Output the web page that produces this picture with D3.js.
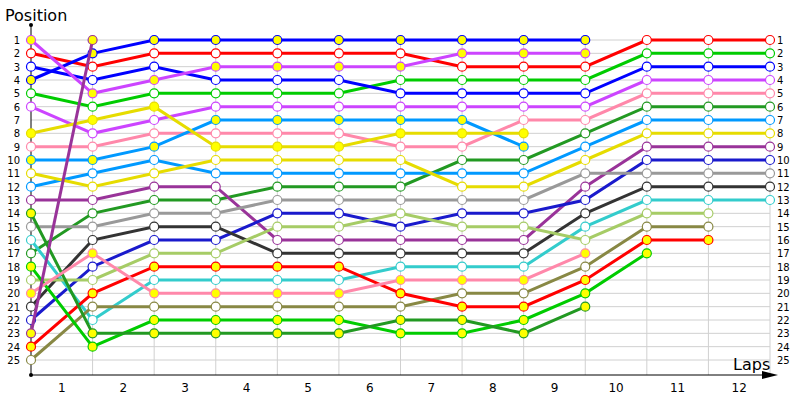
<!DOCTYPE html>
<html><head><meta charset="utf-8">
<script src="https://cdn.jsdelivr.net/npm/d3@7"></script>
<style>body{margin:0;background:#fff}text{font-family:"DejaVu Sans",sans-serif}</style>
</head><body>
<script>
// lap indices 0..12, positions per lap
var laps = d3.range(0, 13);
var lapLabels = ["1","2","3","4","5","6","7","8","9","10","11","12"];
var positions = d3.range(1, 26);

var colors = ["#ff0000","#00cc00","#0000ff","#cc44ff","#ff88aa","#229922","#0099ff","#e6dc00","#993399","#1a1acc","#999999","#333333","#33cccc","#a6cc66","#888844",
              "#ff0000","#00cc00","#229922","#ff88aa","#0000ff","#cc44ff","#0099ff","#e6dc00","#993399"];
var pitFill = [0,0,0,0,0,0,0,0,0,0,0,0,0,0,0, 1,1,1,1,1,1,1,1,1];
var series = [
  [2,3,2,2,2,2,2,3,3,3,1,1,1],
  [5,6,5,5,5,5,4,4,4,4,2,2,2],
  [3,4,3,4,4,4,5,5,5,5,3,3,3],
  [6,8,7,6,6,6,6,6,6,6,4,4,4],
  [9,9,8,8,8,8,9,9,7,7,5,5,5],
  [17,14,13,13,12,12,12,10,10,8,6,6,6],
  [12,11,10,11,11,11,11,11,11,9,7,7,7],
  [11,12,11,10,10,10,10,12,12,10,8,8,8],
  [13,13,12,12,16,16,16,16,16,12,9,9,9],
  [22,18,16,16,14,14,15,14,14,13,10,10,10],
  [15,15,14,14,13,13,13,13,13,11,11,11,11],
  [21,16,15,15,17,17,17,17,17,14,12,12,12],
  [16,22,19,19,19,19,18,18,18,15,13,13,13],
  [19,19,17,17,15,15,14,15,15,16,14,14],
  [25,21,21,21,21,21,21,20,20,18,15,15],
  [24,20,18,18,18,18,20,21,21,19,16,16],
  [18,24,22,22,22,22,23,23,22,20,17],
  [14,23,23,23,23,23,22,22,23,21],
  [20,17,20,20,20,20,19,19,19,17],
  [4,2,1,1,1,1,1,1,1,1],
  [1,5,4,3,3,3,3,2,2,2],
  [10,10,9,7,7,7,7,7,9],
  [8,7,6,9,9,9,8,8,8],
  [23,1]
];

var svg = d3.select("body").append("svg").attr("width",800).attr("height",400);
var x = d3.scaleLinear().domain([0,12]).range([31,770]);
var y = d3.scaleLinear().domain([1,25]).range([40,360]);

// grid
svg.selectAll(".hg").data(positions).enter().append("line")
  .attr("x1",31).attr("x2",770).attr("y1",d=>y(d)).attr("y2",d=>y(d))
  .attr("stroke","#d0d0d0");
svg.selectAll(".vg").data(laps.slice(1)).enter().append("line")
  .attr("x1",d=>x(d)).attr("x2",d=>x(d)).attr("y1",40).attr("y2",375)
  .attr("stroke","#d0d0d0");

// axes
svg.append("line").attr("x1",31).attr("x2",31).attr("y1",25).attr("y2",375).attr("stroke","#000");
svg.append("circle").attr("cx",31).attr("cy",25).attr("r",2);
svg.append("circle").attr("cx",31).attr("cy",375).attr("r",2);
svg.append("line").attr("x1",31).attr("x2",770).attr("y1",375).attr("y2",375).attr("stroke","#000");
svg.append("path").attr("d","M762,371 L778,375 L762,379 Z").attr("fill","#000");
svg.append("text").attr("x",5).attr("y",21).attr("font-size",16).text("Position");
svg.append("text").attr("x",733).attr("y",370).attr("font-size",16).text("Laps");

svg.selectAll(".yl").data(positions).enter().append("text")
  .attr("x",20).attr("y",d=>y(d)+4).attr("text-anchor","end").attr("font-size",10).text(d=>d);
svg.selectAll(".yr").data(positions).enter().append("text")
  .attr("x",777).attr("y",d=>y(d)+4).attr("font-size",10).text(d=>d);
svg.selectAll(".xl").data(lapLabels).enter().append("text")
  .attr("x",(d,i)=>(x(i)+x(i+1))/2).attr("y",392).attr("text-anchor","middle").attr("font-size",12).text(d=>d);

var line = d3.line().x((d,i)=>x(i)).y(d=>y(d));
var g = svg.selectAll(".s").data(series).enter().append("g");
g.append("path").attr("d",d=>line(d)).attr("fill","none")
  .attr("stroke",(d,i)=>colors[i]).attr("stroke-width",3);
g.each(function(d,i){
  d3.select(this).selectAll("circle").data(d).enter().append("circle")
    .attr("cx",(v,j)=>x(j)).attr("cy",v=>y(v)).attr("r",4.5)
    .attr("fill",pitFill[i]?"#ffff00":"#fff")
    .attr("stroke",colors[i]).attr("stroke-width",1.2);
});
</script>
</body></html>
